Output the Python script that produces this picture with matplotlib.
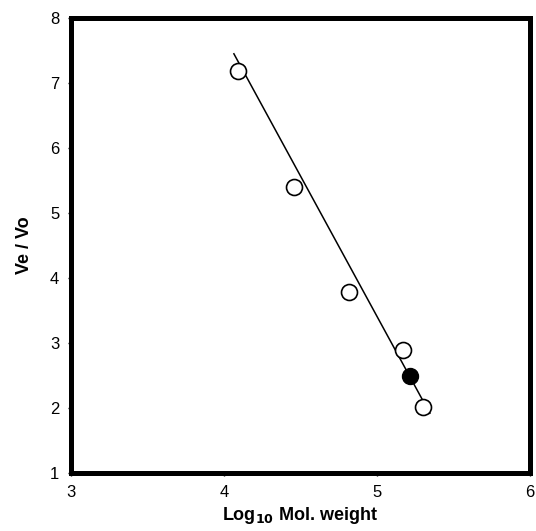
import matplotlib
matplotlib.use("Agg")
import matplotlib.pyplot as plt
import numpy as np

plt.rcParams['font.family'] = ['Liberation Sans', 'DejaVu Sans']

# standards (open) and sample (filled)
log_mw = [4.09, 4.46, 4.82, 5.17]
ve_vo = [7.19, 5.40, 3.79, 2.90]
log_mw_last = [5.30]
ve_vo_last = [2.01]
sample_x = [5.215]
sample_y = [2.50]

# fitted line endpoints
fit_x = [4.065, 5.346]
fit_y = [7.45, 1.92]

fig = plt.figure(figsize=(5.36, 5.31), dpi=100)
ax = fig.add_axes([0.1325, 0.109, 0.856, 0.857])

ax.plot(fit_x, fit_y, color='black', lw=1.1, zorder=2)
ax.plot(log_mw + log_mw_last, ve_vo + ve_vo_last, 'o', ms=11.5, mfc='white',
        mec='black', mew=1.2, zorder=3)
ax.plot(sample_x, sample_y, 'o', ms=11.5, mfc='black', mec='black', zorder=4)

ax.set_xlim(3, 6)
ax.set_ylim(1, 8)
ax.set_xticks([3, 4, 5, 6])
ax.set_yticks(np.arange(1, 9))
for s in ax.spines.values():
    s.set_linewidth(3.6)
ax.tick_params(direction='out', length=2.5, width=1, labelsize=12, pad=6)

ax.set_xlabel(r'Log$_\mathbf{10}$ Mol. weight', fontsize=13, fontweight='bold',
              labelpad=4)
ax.set_ylabel('Ve / Vo', fontsize=13, fontweight='bold', labelpad=12)

plt.savefig('out.png', dpi=100)
